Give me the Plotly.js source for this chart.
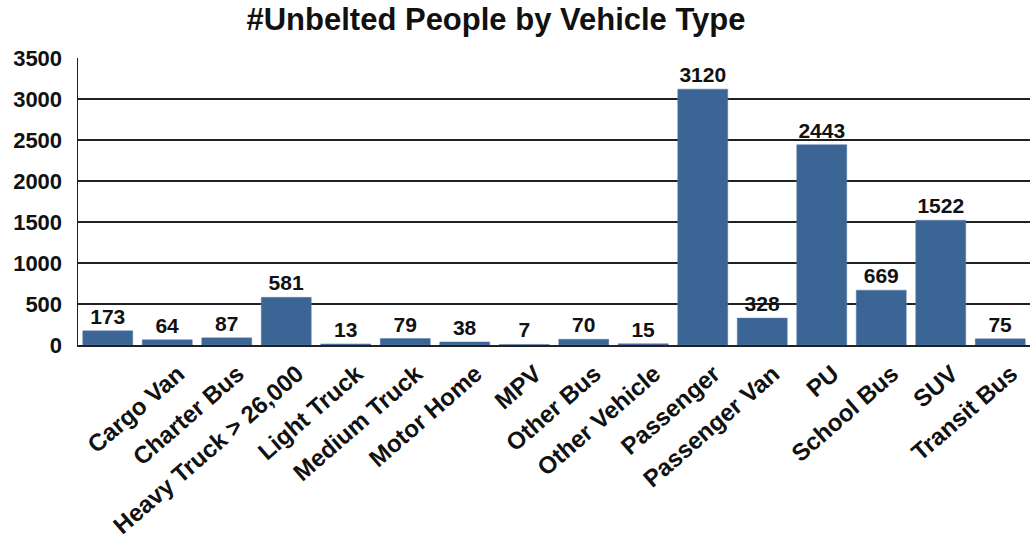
<!DOCTYPE html>
<html>
<head>
<meta charset="utf-8">
<script src="https://cdn.plot.ly/plotly-3.0.1.min.js"></script>
<style>html,body{margin:0;padding:0;background:#fff;}#chart{width:1031px;height:538px;}</style>
</head>
<body>
<div id="chart"></div>
<script>
// first bar has no visible label in the reference
const categories = [" ","Cargo Van","Charter Bus","Heavy Truck > 26,000","Light Truck","Medium Truck","Motor Home","MPV","Other Bus","Other Vehicle","Passenger","Passenger Van","PU","School Bus","SUV","Transit Bus"];
const values = [173,64,87,581,13,79,38,7,70,15,3120,328,2443,669,1522,75];
const yTicks = [0,500,1000,1500,2000,2500,3000,3500];
</script>
<script>
const FONT = "Liberation Sans, Arial, sans-serif";
const trace = {
  type: "bar",
  x: categories,
  y: values,
  marker: {color: "#3A6595", line: {color: "#5a7fae", width: 0.5}},
  text: values.map(String),
  textposition: "outside",
  constraintext: "none",
  cliponaxis: false,
  textfont: {family: FONT, size: 21, color: "#111", weight: "bold"},
  hoverinfo: "none"
};
const layout = {
  width: 1031, height: 538,
  margin: {l: 78, r: 1, t: 58, b: 193},
  paper_bgcolor: "#fff", plot_bgcolor: "#fff",
  bargap: 0.16,
  showlegend: false,
  title: {
    text: "<b>#Unbelted People by Vehicle Type</b>",
    font: {family: FONT, size: 31, color: "#111"},
    x: 496/1031, xanchor: "center", xref: "container",
    y: 1 - 19/538, yanchor: "middle", yref: "container"
  },
  xaxis: {
    type: "category",
    showgrid: false,
    showline: true, linecolor: "#222", linewidth: 1.5,
    ticks: "",
    tickangle: -41,
    ticklabelshift: 11,
    ticklabelstandoff: 4,
    tickfont: {family: FONT, size: 24, color: "#111", weight: "bold"}
  },
  yaxis: {
    range: [0, 3500],
    tickvals: yTicks,
    ticktext: yTicks.map(String),
    showgrid: true, gridcolor: "#222", gridwidth: 1.5,
    showline: true, linecolor: "#222", linewidth: 1.5,
    zeroline: false,
    ticks: "",
    ticklabelstandoff: 10,
    tickfont: {family: FONT, size: 22, color: "#111", weight: "bold"}
  }
};
Plotly.newPlot("chart", [trace], layout, {displayModeBar: false, staticPlot: true});
</script>
</body>
</html>
